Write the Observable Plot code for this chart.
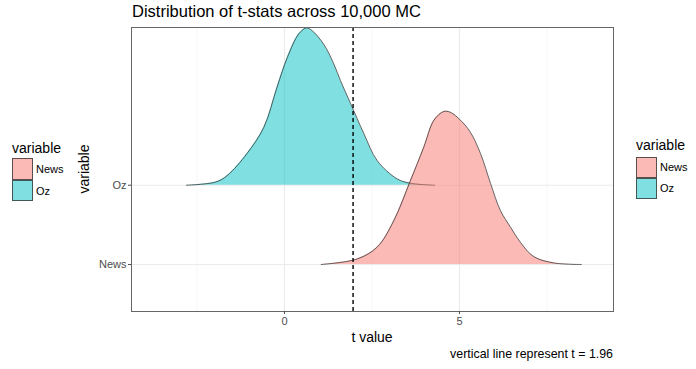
<!DOCTYPE html>
<html>
<head>
<meta charset="utf-8">
<script src="https://cdn.jsdelivr.net/npm/d3@7"></script>
<script src="https://cdn.jsdelivr.net/npm/@observablehq/plot@0.6"></script>
<style>
  html, body { margin: 0; padding: 0; background: #fff; }
  #wrap { position: relative; width: 696px; height: 369px; font-family: "Liberation Sans", Arial, sans-serif; overflow: hidden; }
  #wrap svg { position: absolute; left: 0; top: 0; }
  .t { position: absolute; white-space: nowrap; line-height: 1; color: #000; }
  .key { position: absolute; box-sizing: border-box; border: 1px solid rgba(51,51,51,0.8); }
</style>
</head>
<body>
<div id="wrap"></div>
<script>
// ---- data ----
const title = "Distribution of t-stats across 10,000 MC";
const xLabel = "t value";
const yLabel = "variable";
const caption = "vertical line represent t = 1.96";
const variables = ["News", "Oz"];           // y levels 1, 2
const colors = ["#F8766D", "#00BFC4"];
const xTicks = [0, 5];
const xMinor = [-2.5, 2.5, 7.5];
const cutoff = 1.96;

// ridge heights (in ridge units above each baseline)
const ozT = [-2.8, -1.97, -1.64, -1.07, -0.59, -0.21, 0.08, 0.41, 0.63, 0.79, 1.12, 1.41, 1.6, 1.89, 2.27, 2.65, 3.22, 3.6, 4.29];
const ozH = [0, 0.04, 0.12, 0.40, 0.73, 1.24, 1.61, 1.91, 1.985, 1.95, 1.78, 1.53, 1.32, 1.03, 0.65, 0.31, 0.08, 0.025, 0];
const newsT = [1.05, 2.08, 2.65, 3.12, 3.6, 3.98, 4.27, 4.55, 4.74, 5.03, 5.31, 5.6, 5.89, 6.17, 6.46, 6.74, 7.12, 7.69, 8.48];
const newsH = [0, 0.07, 0.22, 0.55, 1.06, 1.48, 1.82, 1.93, 1.92, 1.82, 1.67, 1.40, 1.02, 0.68, 0.47, 0.28, 0.10, 0.02, 0];

const ozData = ozT.map((t, i) => ({t, base: 2, top: 2 + ozH[i]}));
const newsData = newsT.map((t, i) => ({t, base: 1, top: 1 + newsH[i]}));

const chart = Plot.plot({
  width: 696,
  height: 369,
  marginLeft: 131,
  marginRight: 83,
  marginTop: 27,
  marginBottom: 58,
  style: {fontFamily: "Liberation Sans, Arial, sans-serif", background: "transparent"},
  x: {domain: [-4.37, 9.4]},
  y: {domain: [0.407, 3.99]},
  marks: [
    Plot.ruleX(xMinor, {stroke: "#f4f4f4", strokeWidth: 0.8}),
    Plot.ruleX(xTicks, {stroke: "#ebebeb", strokeWidth: 1.2}),
    Plot.ruleY([1, 2], {stroke: "#ebebeb", strokeWidth: 1.2}),
    Plot.areaY(ozData, {x: "t", y1: "base", y2: "top", fill: colors[1], fillOpacity: 0.5, curve: "catmull-rom"}),
    Plot.lineY(ozData, {x: "t", y: "top", stroke: "#333", strokeWidth: 0.9, strokeOpacity: 0.85, curve: "catmull-rom"}),
    Plot.areaY(newsData, {x: "t", y1: "base", y2: "top", fill: colors[0], fillOpacity: 0.5, curve: "catmull-rom"}),
    Plot.lineY(newsData, {x: "t", y: "top", stroke: "#333", strokeWidth: 0.9, strokeOpacity: 0.85, curve: "catmull-rom"}),
    Plot.ruleX([cutoff], {stroke: "#000", strokeWidth: 1.4, strokeDasharray: "4,3"}),
    Plot.frame({stroke: "#666", strokeWidth: 1}),
    Plot.axisX({ticks: xTicks, tickSize: 3, tickPadding: 3, fontSize: 11, color: "#4d4d4d", label: null}),
    Plot.axisY({ticks: [1, 2], tickFormat: d => variables[d - 1], tickSize: 3, tickPadding: 2, fontSize: 11, color: "#4d4d4d", label: null})
  ]
});

const wrap = document.getElementById("wrap");
wrap.appendChild(chart);

function addText(txt, css) {
  const d = document.createElement("div");
  d.className = "t";
  d.textContent = txt;
  Object.assign(d.style, css);
  wrap.appendChild(d);
  return d;
}

addText(title, {left: "132px", top: "3px", fontSize: "16.5px"});
addText(xLabel, {left: "372px", top: "330px", fontSize: "14px", transform: "translateX(-50%)"});
addText(caption, {right: "83px", top: "348px", fontSize: "12.4px"});
addText(yLabel, {left: "84px", top: "169px", fontSize: "14px", transform: "translate(-50%,-50%) rotate(-90deg)"});

function legend(x, titleTop, keyTop, keyW, keyH) {
  addText(yLabel, {left: x + "px", top: titleTop + "px", fontSize: "14px"});
  variables.forEach((v, i) => {
    const k = document.createElement("div");
    k.className = "key";
    const c = d3.color(colors[i]);
    Object.assign(k.style, {
      left: x + "px", top: (keyTop + i * keyH) + "px", width: keyW + "px", height: keyH + "px",
      background: `rgba(${c.r},${c.g},${c.b},0.5)`
    });
    wrap.appendChild(k);
    addText(v, {left: (x + keyW + 3) + "px", top: (keyTop + i * keyH + keyH / 2) + "px", fontSize: "11px", transform: "translateY(-50%)"});
  });
}
legend(12, 141, 158, 21, 21.7);
legend(636, 138, 156.5, 21, 21.2);
</script>
</body>
</html>
